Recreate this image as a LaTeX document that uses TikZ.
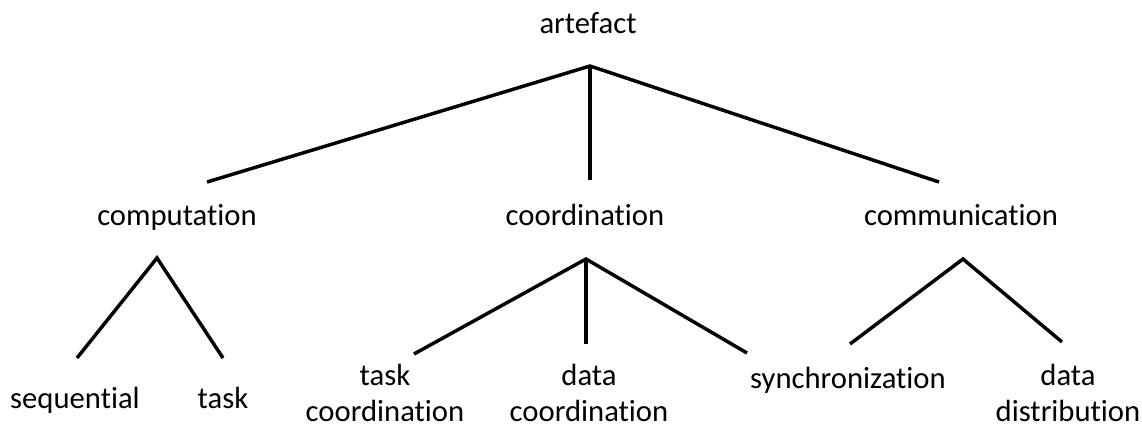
\documentclass[tikz,border=0pt]{standalone}
\usepackage{fontspec}
\setmainfont{Carlito}[Ligatures=NoCommon]
\begin{document}
\begin{tikzpicture}[x=0.75pt,y=-0.75pt,
  label/.style={inner sep=0pt, anchor=base, align=center,
    font=\fontsize{23}{26.3}\selectfont},
  branch/.style={line width=2.6pt, line cap=butt, line join=miter}]
\useasboundingbox (0,0) rectangle (1142,430);

% labels (two-line labels are placed by the baseline of their last line)
\node[label] (art)  at (588,33)  {artefact};
\node[label] (comp) at (177,225) {computation};
\node[label] (coor) at (585,225) {coordination};
\node[label] (comm) at (961,225) {communication};
\node[label] (seq)  at (75,408)  {sequential};
\node[label] (task) at (223,408) {task};
\node[label] (tc)   at (385,421) {task\\coordination};
\node[label] (dc)   at (589,421) {data\\coordination};
\node[label] (syn)  at (848,388) {synchronization};
\node[label] (dd)   at (1068,421) {data\\distribution};

% branch points and line ends
\coordinate (artJ)  at (590,66);
\coordinate (compT) at (207,182);
\coordinate (coorT) at (590,180);
\coordinate (commT) at (939,182);

\coordinate (compJ) at (157,258);
\coordinate (seqT)  at (77,358);
\coordinate (taskT) at (223,358);

\coordinate (coorJ) at (586,259);
\coordinate (tcT)   at (414,354);
\coordinate (dcT)   at (586,344);
\coordinate (synT0) at (747,353);

\coordinate (commJ) at (963,259);
\coordinate (synT)  at (850,344);
\coordinate (ddT)   at (1062,342);

% tree
\draw[branch] (compT) -- (artJ) -- (commT);
\draw[branch] (artJ) -- (coorT);

\draw[branch] (seqT) -- (compJ) -- (taskT);

\draw[branch] (tcT) -- (coorJ) -- (synT0);
\draw[branch] (coorJ) -- (dcT);

\draw[branch] (synT) -- (commJ) -- (ddT);
\end{tikzpicture}
\end{document}
